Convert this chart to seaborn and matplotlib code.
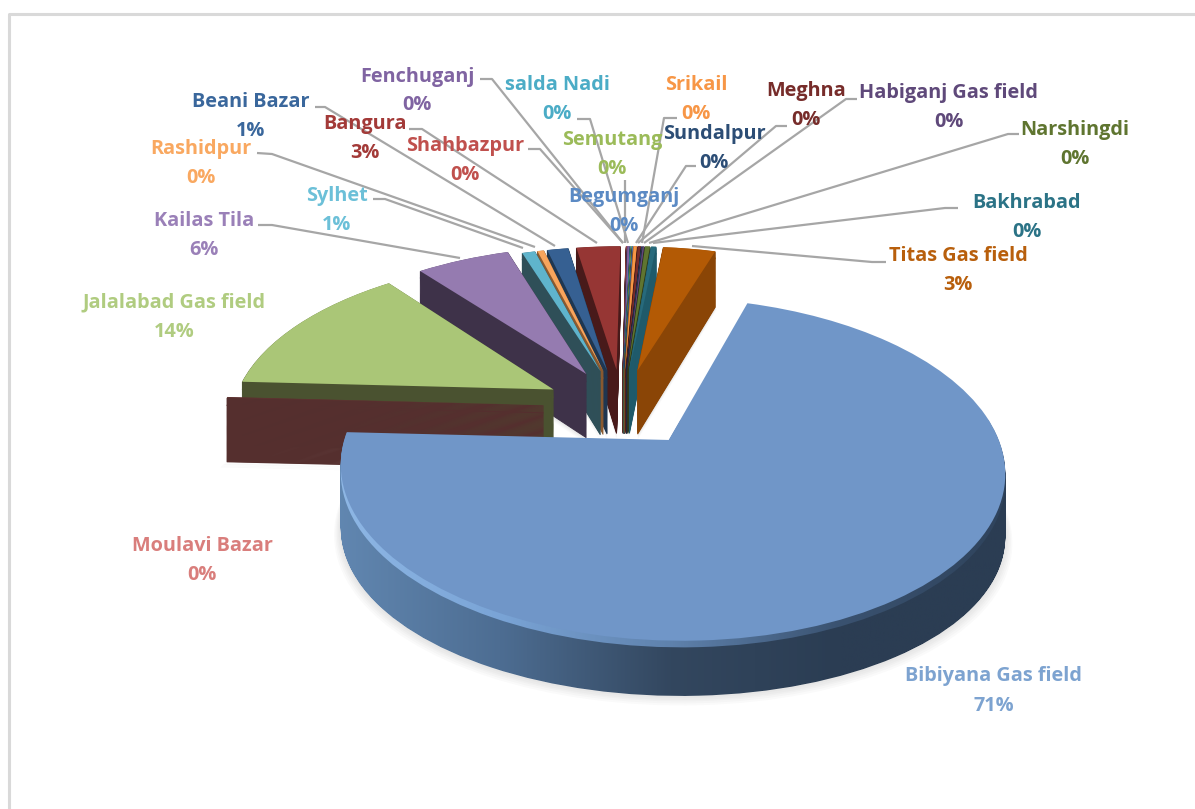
import numpy as np
import seaborn as sns
from matplotlib import pyplot
from matplotlib.colors import LinearSegmentedColormap
from matplotlib.path import Path
from matplotlib.transforms import Transform

# clockwise from the big slice
fields = ['Bibiyana Gas field', 'Moulavi Bazar', 'Jalalabad Gas field', 'Kailas Tila', 'Sylhet',
          'Rashidpur', 'Beani Bazar', 'Bangura', 'Shahbazpur', 'Fenchuganj', 'salda Nadi', 'Semutang',
          'Begumganj', 'Srikail', 'Meghna', 'Sundalpur', 'Habiganj Gas field', 'Narshingdi',
          'Bakhrabad', 'Titas Gas field']
shares = [71, 0.1, 13.6, 5.6, 0.8, 0.4, 1.3, 2.7, 0.05, 0.15, 0.05, 0.05, 0.05, 0.2, 0.2, 0.05, 0.1,
          0.3, 0.3, 3.2]

top_colors = ['#7096c8', '#5e3230', '#aac677', '#957bb0', '#5fb4cc', '#f8a45c', '#366092', '#963634',
              '#c0504d', '#7f60a0', '#4bacc6', '#9bbb59', '#4f81bd', '#f79646', '#772c2a', '#2c4d75',
              '#5f497a', '#5f7530', '#276a7c', '#b35a05']
side_colors = ['#2b3d53', '#552f2e', '#4a5230', '#3e3249', '#2f4f58', '#8a5a30', '#1f3650', '#481a1a',
               '#5a2524', '#3c2d4c', '#235a68', '#4c5c2a', '#263e5c', '#8a5020', '#3a1514', '#16263a',
               '#2e233c', '#2e3a17', '#1f5a6a', '#8a4506']
text_colors = ['#7da3d0', '#d97e7c', '#b0cc80', '#9a80b8', '#6cc0d8', '#f9a860', '#3a679c', '#a33a38',
               '#c0504d', '#8064a2', '#4bacc6', '#9bbb59', '#5b8ac4', '#f79646', '#772c2a', '#2c4d75',
               '#5f497a', '#5f7530', '#2b7386', '#b85f0c']

# label centre x, name y, percent y
label_x = [994, 202, 174, 204, 337, 201, 251, 365, 465, 417, 557, 612, 624, 696, 806, 714, 949, 1075, 1027, 958]
label_y = [676, 546, 302, 221, 196, 149, 102, 124, 146, 77, 85, 140, 197, 85, 91, 134, 93, 130, 203, 256]
pct_y = [706, 575, 332, 250, 225, 178, 131, 153, 175, 105, 114, 169, 226, 114, 120, 163, 122, 159, 232, 285]

leaders = [
    [(258, 225), (272, 225), (460, 258)],
    [(373, 199), (385, 199), (523, 248)],
    [(257, 153), (272, 154), (535, 247)],
    [(315, 107), (325, 107), (555, 246)],
    [(409, 129), (422, 129), (597, 243)],
    [(528, 149), (540, 149), (623, 243)],
    [(480, 79), (492, 79), (623, 243)],
    [(577, 119), (590, 119), (628, 243)],
    [(625, 180), (625, 243)],
    [(677, 118), (664, 118), (642, 243)],
    [(696, 166), (686, 166), (636, 243)],
    [(787, 126), (776, 126), (638, 243)],
    [(857, 99), (846, 99), (644, 243)],
    [(1019, 134), (1008, 134), (649, 243)],
    [(958, 208), (945, 208), (653, 243)],
    [(886, 262), (872, 262), (692, 246)],
]

EXPLODE = 0.25
START = 69.5
N_LAYERS = 60
# the left hand slices reach a bit further out in the picture
REACH = {1: 1.03, 2: 1.03, 3: 1.03}


class TiltedPie(Transform):
    # pie plane to picture pixels, z is how far down the slab
    input_dims = 2
    output_dims = 2
    is_separable = False

    def __init__(self, z=0.0):
        super().__init__()
        self.z = z

    def transform_non_affine(self, xy):
        xy = np.asarray(xy)
        x, y = xy[:, 0], xy[:, 1]
        w = 1 + 0.165 * y
        depth = self.z * (64 - 6 * y ** 2)
        return np.column_stack([622 + (315 * x - 16 * y) / w, 407 - (155 * y + 8 * x) / w + depth])


def DrawLayer(ax, z, colors, zorders, alpha=1.0, radius=1.0, lw=0):
	wedges, _ = ax.pie(shares, explode=[EXPLODE] * len(shares), startangle=START, counterclock=False,
					   colors=colors, radius=radius, wedgeprops={'alpha': alpha})
	trans = TiltedPie(z)
	for i, (w, order) in enumerate(zip(wedges, zorders)):
		w.set_radius(w.r * REACH.get(i, 1.0))
		w.set_transform(trans + ax.transData)
		w.set_zorder(order)
		w.set_edgecolor(w.get_facecolor())
		w.set_linewidth(lw)
	return wedges, trans


def GradientClip(ax, paths, colors, zorder):
	cmap = LinearSegmentedColormap.from_list('rim', colors)
	img = ax.imshow(np.linspace(0, 1, 256).reshape(1, -1), cmap=cmap, aspect='auto',
					extent=(330, 1010, 710, 420), zorder=zorder)
	img.set_clip_path(Path.make_compound_path(*paths), ax.transData)


sns.set_theme(style='white')
pyplot.rcParams['font.family'] = ['Open Sans', 'DejaVu Sans']

fig = pyplot.figure(figsize=(11.95, 8.09), dpi=100, facecolor='white')
ax = fig.add_axes([0, 0, 1, 1])

total = sum(shares)
mids = 90 - START + (np.cumsum(shares) - np.array(shares) / 2) / total * 360
rank = np.argsort(np.argsort(-np.cos(np.radians(mids))))
base = [(r + 1) * 10 for r in rank]

# soft shadow first, under everything
for grow, drop in [(1.02, 1.09), (1.016, 1.07), (1.012, 1.05), (1.008, 1.04), (1.004, 1.02)]:
	DrawLayer(ax, drop, ['#808080'] * len(shares), [1] * len(shares), alpha=0.04, radius=grow)

bib_paths = []
for z in np.linspace(1, 0.012, N_LAYERS):
	wedges, trans = DrawLayer(ax, z, sns.color_palette(side_colors), [b + 1 for b in base], lw=0.7)
	bib_paths.append(trans.transform_path(wedges[0].get_path()))
	wedges[0].set_visible(False)

GradientClip(ax, bib_paths, ['#6288b2', '#4d6d92', '#33475f', '#2b3d53', '#2b3d53'], base[0] + 2)

wedges, trans = DrawLayer(ax, 0.12, side_colors, [b + 1 for b in base], lw=0.7)
wedges[0].set_visible(False)
GradientClip(ax, [trans.transform_path(wedges[0].get_path())],
			 ['#8fb8e6', '#7aa4d6', '#5f82ad', '#3a5270', '#2f435c'], base[0] + 3)

DrawLayer(ax, 0, sns.color_palette(top_colors), [b + 5 for b in base])

for points in leaders:
	xs, ys = zip(*points)
	ax.plot(xs, ys, color='#a6a6a6', lw=1.6, solid_capstyle='butt', zorder=300)

for i, name in enumerate(fields):
	ax.text(label_x[i], label_y[i], name, color=text_colors[i], fontsize=14.3, fontweight='bold',
			ha='center', va='center', zorder=400)
	ax.text(label_x[i], pct_y[i], '{:.0%}'.format(shares[i] / total), color=text_colors[i], fontsize=14.3,
			fontweight='bold', ha='center', va='center', zorder=400)

# frame of the pasted chart
ax.plot([9, 9, 1195], [809, 14, 14], color='#d9d9d9', lw=2.2, zorder=500)

ax.set_aspect('auto')
ax.set_xlim(0, 1195)
ax.set_ylim(809, 0)
ax.axis('off')

pyplot.savefig('out.png', dpi=100)
